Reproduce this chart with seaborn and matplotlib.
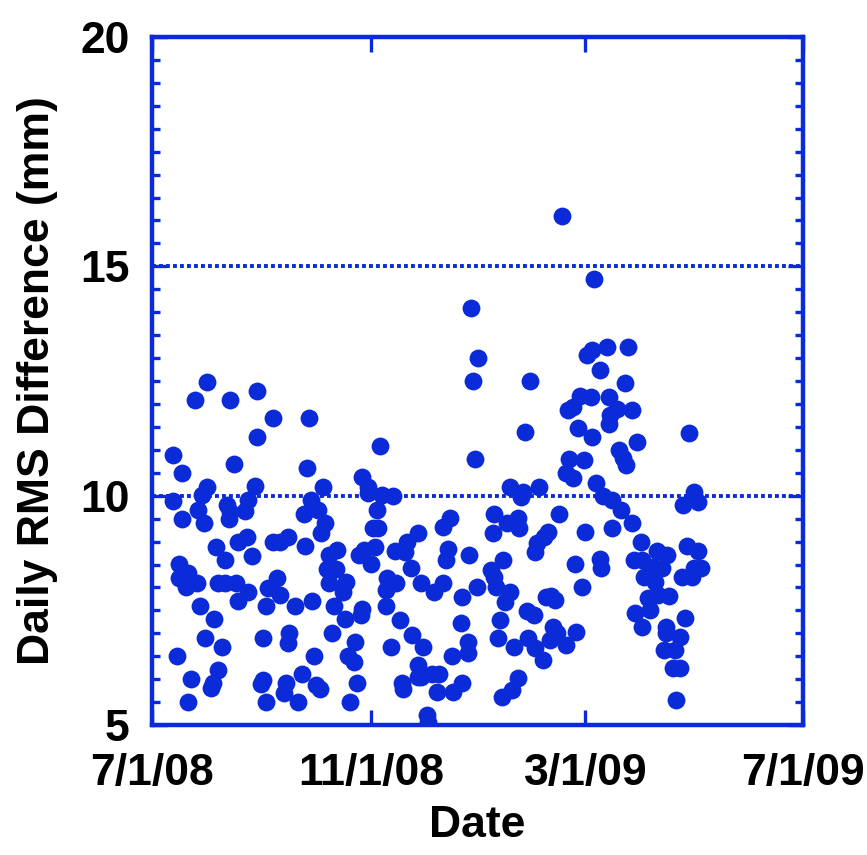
import pandas as pd
import seaborn as sns
import matplotlib.pyplot as plt
import matplotlib.dates as mdates
from matplotlib.ticker import MultipleLocator, FixedLocator

# days after 7/1/08 and daily RMS difference (mm)
days = [31, 24, 44, 59, 68, 59, 12, 17, 46, 31, 28, 12, 58, 54, 26, 42, 44, 52, 17, 29,
        43, 36, 41, 48, 53, 56, 68, 72, 15, 15, 20, 19, 25, 21, 37, 41, 47, 48, 54, 27,
        35, 30, 39, 14, 37, 34, 33, 22, 20, 62, 64, 65, 70, 72, 62, 61, 64, 75, 74, 76,
        76,
        88, 128, 87, 96, 89, 93, 85, 97, 95, 86, 118, 121, 121, 129, 135, 126, 124, 127, 149,
        104, 99, 98, 103, 99, 109, 107, 116, 119, 125, 123, 136, 143, 142, 145, 132, 137, 131,
        131, 102, 90, 80, 118, 117, 108, 101, 77, 139, 146, 114, 110, 113, 91, 134, 84, 92,
        94, 115, 82, 111, 140, 141, 149, 149,
        179, 183, 180, 212, 209, 181, 201, 208, 207, 217, 167, 163, 192, 191, 199, 205, 206,
        166, 165, 178, 151, 158, 163, 174, 182, 190, 192, 197, 193, 201, 198, 210, 214, 216,
        215, 220, 221, 195, 194, 203, 211, 215, 219, 173, 177, 177, 168, 152, 151, 157, 161,
        160, 169, 174, 205, 202, 196, 154, 155,
        230, 248, 244, 247, 255, 267, 251, 265, 240, 246, 233, 236, 256, 261, 269, 257, 256,
        239, 247, 272, 301, 262, 264, 266, 234, 242, 232, 236, 249, 253, 258, 263, 269, 228,
        243, 258, 222, 274, 283, 289, 300, 306, 270, 275, 281, 286, 276, 282, 297, 303, 304,
        308, 251, 252, 237, 241, 224, 226, 278, 284, 290, 271, 279, 275, 288, 288, 296, 299,
        287, 293, 292, 296, 294, 238, 225, 227, 232, 223, 304, 298, 306]
rms = [12.48, 12.09, 12.09, 12.28, 11.69, 11.28, 10.89, 10.49, 10.69, 10.19, 10.01, 9.88,
       10.21, 9.90, 9.69, 9.80, 9.64, 9.67, 9.49, 9.40, 9.49, 8.88, 8.60, 8.99, 9.10, 8.68,
       8.99, 8.99, 8.51, 8.20, 8.31, 8.01, 8.10, 8.16, 8.10, 8.10, 8.10, 7.70, 7.90, 7.59,
       7.31, 6.90, 6.70, 6.50, 6.20, 5.92, 5.81, 6.00, 5.50, 6.90, 7.59, 7.99, 8.20, 7.83,
       5.98, 5.89, 5.50, 5.92, 5.70, 6.79, 9.10,
       11.69, 11.08, 10.60, 10.19, 9.90, 9.69, 9.60, 9.40, 9.19, 8.90, 10.41, 10.19, 10.06,
       10.01, 9.99, 9.69, 9.29, 9.29, 9.19, 8.82, 8.71, 8.40, 8.40, 8.10, 8.12, 7.90, 8.71,
       8.82, 8.88, 8.51, 8.79, 8.99, 8.77, 8.42, 8.20, 8.10, 7.94, 7.59, 7.59, 7.70, 7.59,
       7.53, 7.40, 7.31, 7.01, 7.01, 7.29, 6.96, 6.81, 6.50, 6.37, 6.50, 6.70, 6.11, 5.87,
       5.78, 5.92, 5.50, 5.50, 5.92, 5.78, 6.31, 6.05,
       14.09, 13.00, 12.50, 12.50, 11.39, 10.80, 10.19, 10.08, 9.97, 10.19, 9.51, 9.32, 9.60,
       9.19, 9.40, 9.51, 9.29, 8.84, 8.60, 8.71, 8.10, 7.90, 8.10, 7.79, 8.01, 8.38, 8.23,
       8.60, 8.01, 7.90, 7.68, 7.49, 7.40, 8.97, 8.77, 9.10, 7.79, 7.29, 6.90, 6.70, 6.90,
       6.68, 6.42, 7.22, 6.81, 6.57, 6.50, 6.70, 6.05, 6.11, 6.11, 5.72, 5.72, 5.92, 6.02,
       5.76, 5.61, 5.22, 5.07,
       16.10, 14.72, 13.07, 13.18, 13.24, 13.24, 12.74, 12.46, 12.17, 12.15, 11.87, 11.93,
       12.15, 11.89, 11.87, 11.76, 11.56, 11.47, 11.28, 11.17, 11.37, 11.00, 10.82, 10.67,
       10.80, 10.78, 10.49, 10.38, 10.28, 9.99, 9.90, 9.69, 9.40, 9.60, 9.21, 9.29, 9.21,
       8.99, 8.79, 8.71, 8.90, 8.79, 8.60, 8.60, 8.45, 8.42, 8.23, 8.12, 8.23, 8.23, 8.42,
       8.42, 8.62, 8.42, 8.51, 8.01, 7.81, 7.72, 7.77, 7.83, 7.81, 7.44, 7.51, 7.14, 7.14,
       7.01, 6.92, 7.33, 6.64, 6.64, 6.24, 6.24, 5.55, 7.03, 7.14, 7.01, 6.74, 6.85, 10.08,
       9.80, 9.86]

start = '2008-07-01'
tick_dates = ['2008-07-01', '2008-11-01', '2009-03-01', '2009-07-01']
tick_labels = ['7/1/08', '11/1/08', '3/1/09', '7/1/09']

blue = '#0b2bd9'

df = pd.DataFrame({'Date': pd.Timestamp(start) + pd.to_timedelta(days, unit='D'),
                   'RMS': rms})

sns.set_style('ticks')
plt.rcParams['font.family'] = ['Liberation Sans', 'DejaVu Sans']
plt.rcParams['font.weight'] = 'bold'
plt.rcParams['text.color'] = 'black'
plt.rcParams['axes.labelcolor'] = 'black'

fig = plt.figure(figsize=(8.67, 8.55), dpi=100)
ax = fig.add_axes([0.1753, 0.152, 0.7508, 0.8047])
sns.scatterplot(data=df, x='Date', y='RMS', color=blue, s=165, linewidth=0, ax=ax, zorder=3)

ax.set_ylim(5, 20)
ax.set_xlim(mdates.date2num(pd.Timestamp(tick_dates[0])), mdates.date2num(pd.Timestamp(tick_dates[-1])))
ax.xaxis.set_major_locator(FixedLocator([mdates.date2num(pd.Timestamp(d)) for d in tick_dates]))
ax.set_xticklabels(tick_labels)
ax.yaxis.set_major_locator(MultipleLocator(5))
ax.yaxis.set_minor_locator(MultipleLocator(0.5))

for y in [10, 15]:
    ax.axhline(y, color=blue, lw=2.8, linestyle=(0, (1, 0.8)), zorder=1)

for s in ax.spines.values():
    s.set_color(blue)
    s.set_linewidth(3.2)
ax.tick_params(which='both', direction='in', color=blue, top=True, right=True,
               labelsize=32, labelcolor='black')
ax.tick_params(which='major', length=11, width=2.4, pad=20)
ax.tick_params(which='minor', length=6, width=2.4)
ax.tick_params(axis='y', pad=16)

ax.set_xlabel('Date', fontsize=32, fontweight='bold', labelpad=8, color='black')
ax.set_ylabel('Daily RMS Difference (mm)', fontsize=32, fontweight='bold', labelpad=16, color='black')

fig.savefig('out.png', dpi=100)
